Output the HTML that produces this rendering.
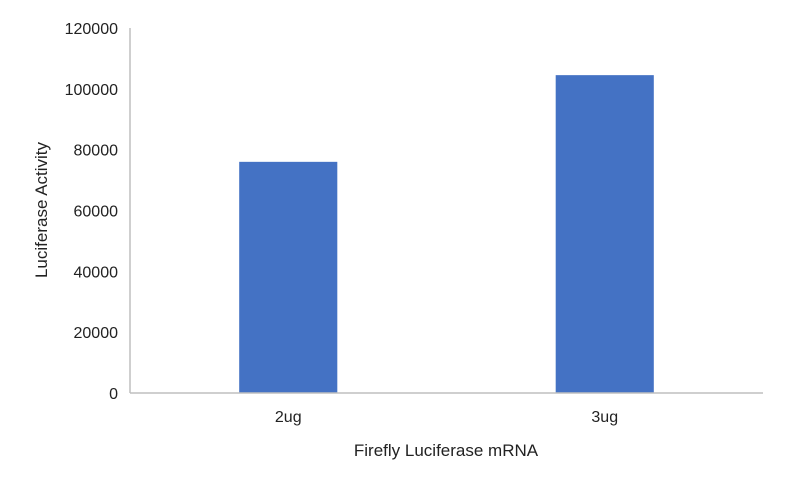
<!DOCTYPE html>
<html><head><meta charset="utf-8"><style>
html,body{margin:0;padding:0;background:#fff;}
svg text{font-family:"Liberation Sans",Arial,sans-serif;fill:#222;}
</style></head><body>
<svg id="chart" width="788" height="478" viewBox="0 0 788 478" xmlns="http://www.w3.org/2000/svg">
<g id="grid"></g>
<g id="bars"></g>
<g id="axes"></g>
<text x="446" y="456" font-size="17" text-anchor="middle">Firefly Luciferase mRNA</text>
<text transform="translate(47,210) rotate(-90)" font-size="17" text-anchor="middle">Luciferase Activity</text>
</svg>
<script>
const categories = ["2ug", "3ug"];
const values = [76000, 104500];
const yTicks = [0, 20000, 40000, 60000, 80000, 100000, 120000];
const tickLabels = ["0", "20000", "40000", "60000", "80000", "100000", "120000"];

const NS = "http://www.w3.org/2000/svg";
const x0 = 130, x1 = 763, yTop = 28, yBot = 393, yMax = 120000;
function yScale(v){ return yBot - (v / yMax) * (yBot - yTop); }
const band = (x1 - x0) / categories.length;
function xCenter(i){ return x0 + band * (i + 0.5); }
const barW = band * 0.31;

const bars = document.getElementById('bars');
const axes = document.getElementById('axes');
values.forEach((v, i) => {
  const r = document.createElementNS(NS, 'rect');
  
  
  r.setAttribute('x', xCenter(i) - barW / 2);
  r.setAttribute('y', yScale(v));
  r.setAttribute('width', barW);
  r.setAttribute('height', yBot - yScale(v));
  r.setAttribute('fill', '#4472C4');
  bars.appendChild(r);
  const t = document.createElementNS(NS, 'text');
  
  
  t.setAttribute('x', xCenter(i));
  t.setAttribute('y', 422);
  t.setAttribute('font-size', '16');
  t.setAttribute('text-anchor', 'middle');
  t.textContent = categories[i];
  axes.appendChild(t);
});
yTicks.forEach((v, i) => {
  const t = document.createElementNS(NS, 'text');
  
  
  t.setAttribute('x', 118);
  t.setAttribute('y', yScale(v) + 6);
  t.setAttribute('font-size', '16');
  t.setAttribute('text-anchor', 'end');
  t.textContent = tickLabels[i];
  axes.appendChild(t);
});
const ya = document.createElementNS(NS, 'line');


ya.setAttribute('x1', x0); ya.setAttribute('x2', x0);
ya.setAttribute('y1', yTop); ya.setAttribute('y2', yBot);
ya.setAttribute('stroke', '#bfbfbf'); ya.setAttribute('stroke-width', '1.5');
axes.appendChild(ya);
const xa = document.createElementNS(NS, 'line');


xa.setAttribute('x1', x0); xa.setAttribute('x2', x1);
xa.setAttribute('y1', yBot); xa.setAttribute('y2', yBot);
xa.setAttribute('stroke', '#bfbfbf'); xa.setAttribute('stroke-width', '1.5');
axes.appendChild(xa);
</script>
</body></html>
